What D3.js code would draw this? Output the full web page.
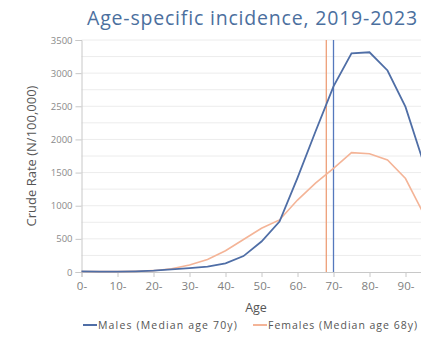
<!DOCTYPE html>
<html>
<head>
<meta charset="utf-8">
<script src="https://cdn.jsdelivr.net/npm/d3@7"></script>
<style>
  html, body { margin: 0; padding: 0; background: #fff; overflow: hidden; }
  svg { display: block; font-family: "Open Sans", Lato, sans-serif; }
</style>
</head>
<body>
<div id="chart"></div>
<script>
// Age groups (lower bound of each 5-year band)
const ages = [0, 5, 10, 15, 20, 25, 30, 35, 40, 45, 50, 55, 60, 65, 70, 75, 80, 85, 90, 95];
// Crude incidence rate per 100,000
const males   = [10, 5, 5, 10, 20, 40, 60, 80, 130, 240, 460, 760, 1420, 2120, 2800, 3300, 3315, 3040, 2490, 1650];
const females = [8, 5, 5, 10, 20, 50, 105, 190, 320, 490, 660, 785, 1085, 1340, 1565, 1800, 1785, 1690, 1410, 880];
const medianMale = 70;
const medianFemale = 68;
const xTicks = [0, 10, 20, 30, 40, 50, 60, 70, 80, 90];
const yTicks = [0, 500, 1000, 1500, 2000, 2500, 3000, 3500];
const gridValues = d3.range(250, 3501, 250);
const seriesNames = ["Males (Median age 70y)", "Females (Median age 68y)"];
const titleText = "Age-specific incidence, 2019-2023";

const W = 421, H = 339;
const maleColor = "#4f6ea6", femaleColor = "#f4b497";
const maleMedColor = "#5578bd", femaleMedColor = "#ee9f78";

const svg = d3.select("#chart").append("svg").attr("width", W).attr("height", H);

const x = d3.scaleLinear().domain([0, 100]).range([81.5, 441.5]);
const y = d3.scaleLinear().domain([0, 3500]).range([272, 40]);

// spread a text element to a given width with letter spacing
function spreadTo(sel, width) {
  const w = sel.node().getComputedTextLength();
  const n = sel.text().length;
  if (w > 0 && n > 1) sel.attr("letter-spacing", (width - w) / n);
}

// title
const title = svg.append("text")
  .attr("x", 87).attr("y", 25)
  .attr("font-size", 19.5)
  .attr("fill", "#4b6f9e")
  .text(titleText);
spreadTo(title, 331);

// horizontal grid
svg.append("g").selectAll("line").data(gridValues).join("line")
  .attr("x1", x(0)).attr("x2", W)
  .attr("y1", d => y(d)).attr("y2", d => y(d))
  .attr("stroke", "#ececec").attr("stroke-width", 1);

// y axis
const yAxis = svg.append("g").attr("transform", `translate(${x(0)},0)`)
  .call(d3.axisLeft(y).tickValues(yTicks).tickSize(6).tickPadding(3).tickFormat(d3.format("d")));
yAxis.select(".domain").attr("stroke", "#c8c8c8");
yAxis.selectAll(".tick line").attr("stroke", "#c8c8c8");
yAxis.selectAll("text").attr("fill", "#8a8a8a").attr("font-size", 9.5).attr("font-family", "'Open Sans', sans-serif");

// x axis
const xAxis = svg.append("g").attr("transform", `translate(0,${y(0)})`)
  .call(d3.axisBottom(x).tickValues(xTicks).tickSize(5).tickPadding(5).tickFormat(d => d + "-"));
xAxis.select(".domain").attr("stroke", "#c8c8c8");
xAxis.selectAll(".tick line").attr("stroke", "#c8c8c8");
xAxis.selectAll("text").attr("fill", "#808080").attr("font-size", 11.5).attr("font-family", "'Open Sans', sans-serif");

// axis titles
svg.append("text")
  .attr("transform", `translate(36,${(y(0) + y(3500)) / 2}) rotate(-90)`)
  .attr("text-anchor", "middle")
  .attr("font-size", 13).attr("fill", "#555")
  .text("Crude Rate (N/100,000)");
svg.append("text")
  .attr("x", 256).attr("y", 312)
  .attr("text-anchor", "middle")
  .attr("font-size", 12.5).attr("fill", "#555")
  .text("Age");

// median lines
svg.append("line")
  .attr("x1", x(medianFemale)).attr("x2", x(medianFemale))
  .attr("y1", y(3500)).attr("y2", y(0))
  .attr("stroke", femaleMedColor).attr("stroke-width", 1.3);
svg.append("line")
  .attr("x1", x(medianMale)).attr("x2", x(medianMale))
  .attr("y1", y(3500)).attr("y2", y(0))
  .attr("stroke", maleMedColor).attr("stroke-width", 1.3);

// series lines
const line = d3.line().x((d, i) => x(ages[i])).y(d => y(d));
svg.append("path").datum(females)
  .attr("d", line).attr("fill", "none")
  .attr("stroke", femaleColor).attr("stroke-width", 1.6);
svg.append("path").datum(males)
  .attr("d", line).attr("fill", "none")
  .attr("stroke", maleColor).attr("stroke-width", 1.8);

// legend
const legend = svg.append("g");
const items = [
  { name: seriesNames[0], color: maleColor, x0: 83, w: 140 },
  { name: seriesNames[1], color: femaleColor, x0: 253, w: 150 }
];
items.forEach(it => {
  legend.append("line")
    .attr("x1", it.x0).attr("x2", it.x0 + 14)
    .attr("y1", 325).attr("y2", 325)
    .attr("stroke", it.color).attr("stroke-width", 2);
  const t = legend.append("text")
    .attr("x", it.x0 + 15).attr("y", 328.5)
    .attr("font-size", 10.5)
    .attr("fill", "#555")
    .text(it.name);
  spreadTo(t, it.w);
});
</script>
</body>
</html>
